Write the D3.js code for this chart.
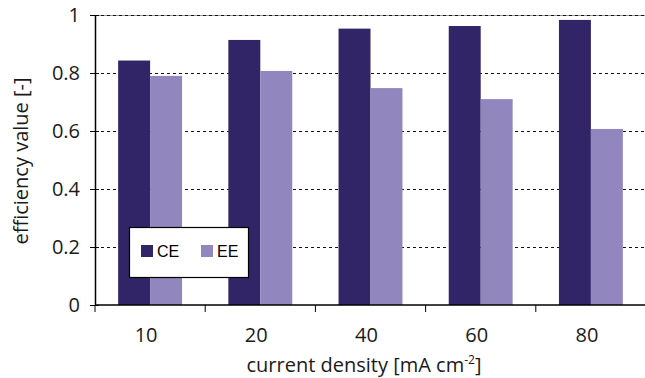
<!DOCTYPE html>
<html>
<head>
<meta charset="utf-8">
<script src="https://cdn.jsdelivr.net/npm/d3@7"></script>
<style>
  html, body { margin: 0; padding: 0; background: #fff; }
  svg { display: block; }
</style>
</head>
<body>
<svg id="chart" width="645" height="378"></svg>
<script>
// Current densities (mA cm-2) and the two efficiencies measured at each
const categories = ["10", "20", "40", "60", "80"];
const seriesNames = ["CE", "EE"];
const ceValues = [0.843, 0.914, 0.953, 0.962, 0.983];
const eeValues = [0.790, 0.807, 0.748, 0.710, 0.607];
const yTicks = [0, 0.2, 0.4, 0.6, 0.8, 1];
const yTickLabels = ["0", "0.2", "0.4", "0.6", "0.8", "1"];
const colors = { CE: "#312567", EE: "#9186be" };

(function () {
const rows = categories.map((c, i) => ({ cat: c, CE: ceValues[i], EE: eeValues[i] }));

const svg = d3.select("#chart");
const plotLeft = 95, plotRight = 646, plotTop = 15, plotBottom = 305;
const font = "'Open Sans', 'Noto Sans', sans-serif";

const x0 = d3.scaleBand().domain(categories).range([plotLeft, plotRight])
  .paddingInner(0.42).paddingOuter(0.21);
const x1 = d3.scaleBand().domain(seriesNames).range([0, x0.bandwidth()]);
const y = d3.scaleLinear().domain([0, 1]).range([plotBottom, plotTop]);

// dashed horizontal gridlines
const grid = svg.append("g");
grid.append("line")
  .attr("x1", plotLeft).attr("x2", plotRight)
  .attr("y1", y(1) + 0.5).attr("y2", y(1) + 0.5)
  .attr("stroke", "#999").attr("stroke-width", 1);
grid.selectAll("line.g").data(yTicks.filter(t => t > 0)).join("line")
  .attr("class", "g")
  .attr("x1", plotLeft).attr("x2", plotRight)
  .attr("y1", d => y(d) + 0.5).attr("y2", d => y(d) + 0.5)
  .attr("stroke", "#111").attr("stroke-width", 1)
  .attr("stroke-dasharray", "3,3");

// bars
const groups = svg.append("g").selectAll("g").data(rows).join("g")
  .attr("transform", d => `translate(${x0(d.cat)},0)`);
groups.selectAll("rect").data(d => seriesNames.map(k => ({ key: k, value: d[k] }))).join("rect")
  .attr("x", d => x1(d.key))
  .attr("y", d => y(d.value))
  .attr("width", x1.bandwidth())
  .attr("height", d => y(0) - y(d.value))
  .attr("fill", d => colors[d.key]);

// y axis
const yAxis = d3.axisLeft(y).tickValues(yTicks)
  .tickFormat((d, i) => yTickLabels[i]).tickSizeInner(5).tickSizeOuter(0).tickPadding(10);
const ya = svg.append("g").attr("transform", `translate(${plotLeft},0)`).call(yAxis);
ya.select(".domain").attr("stroke", "#000").attr("stroke-width", 1.5);
ya.selectAll(".tick line").attr("stroke", "#000").attr("x2", 4).attr("x1", -5);
ya.selectAll(".tick text")
  .attr("font-family", font).attr("font-size", 20).attr("fill", "#1a1a1a")
  .attr("dy", "0.33em");

// x axis line and boundary ticks between categories
const boundaries = categories.map(c => x0(c) - x0.step() * x0.paddingInner() / 2)
  .concat([plotRight]);
const xa = svg.append("g");
xa.append("line").attr("x1", plotLeft).attr("x2", plotRight)
  .attr("y1", plotBottom).attr("y2", plotBottom)
  .attr("stroke", "#000").attr("stroke-width", 1.5);
xa.selectAll("line.t").data(boundaries).join("line")
  .attr("class", "t")
  .attr("x1", d => d).attr("x2", d => d)
  .attr("y1", plotBottom).attr("y2", plotBottom + 7)
  .attr("stroke", "#000").attr("stroke-width", 1);
xa.selectAll("text").data(categories).join("text")
  .attr("x", d => x0(d) + x0.bandwidth() / 2 - 4)
  .attr("y", 342)
  .attr("text-anchor", "middle")
  .attr("font-family", font).attr("font-size", 20).attr("fill", "#1a1a1a")
  .text(d => d);

// axis titles
const xt = svg.append("text")
  .attr("x", 364).attr("y", 372)
  .attr("text-anchor", "middle")
  .attr("font-family", font).attr("font-size", 20).attr("fill", "#1a1a1a");
xt.append("tspan").text("current density [mA cm");
xt.append("tspan").attr("font-size", 12).attr("dy", -8).text("-2");
xt.append("tspan").attr("dy", 8).text("]");

svg.append("text")
  .attr("transform", "translate(28,161) rotate(-90)")
  .attr("text-anchor", "middle")
  .attr("font-family", font).attr("font-size", 20).attr("fill", "#1a1a1a")
  .text("efficiency value [-]");

// legend
const lg = svg.append("g").attr("transform", "translate(129,227)");
lg.append("rect").attr("x", 0.5).attr("y", 0.5).attr("width", 119).attr("height", 50)
  .attr("fill", "#fff").attr("stroke", "#000").attr("stroke-width", 1.2);
const items = lg.selectAll("g").data(seriesNames).join("g")
  .attr("transform", (d, i) => `translate(${12 + i * 60},18)`);
items.append("rect").attr("width", 12).attr("height", 12).attr("fill", d => colors[d]);
items.append("text").attr("x", 16).attr("y", 12)
  .attr("font-family", "'Liberation Sans', Arial, sans-serif").attr("font-size", 16)
  .attr("fill", "#000").text(d => d);
})();
</script>
</body>
</html>
